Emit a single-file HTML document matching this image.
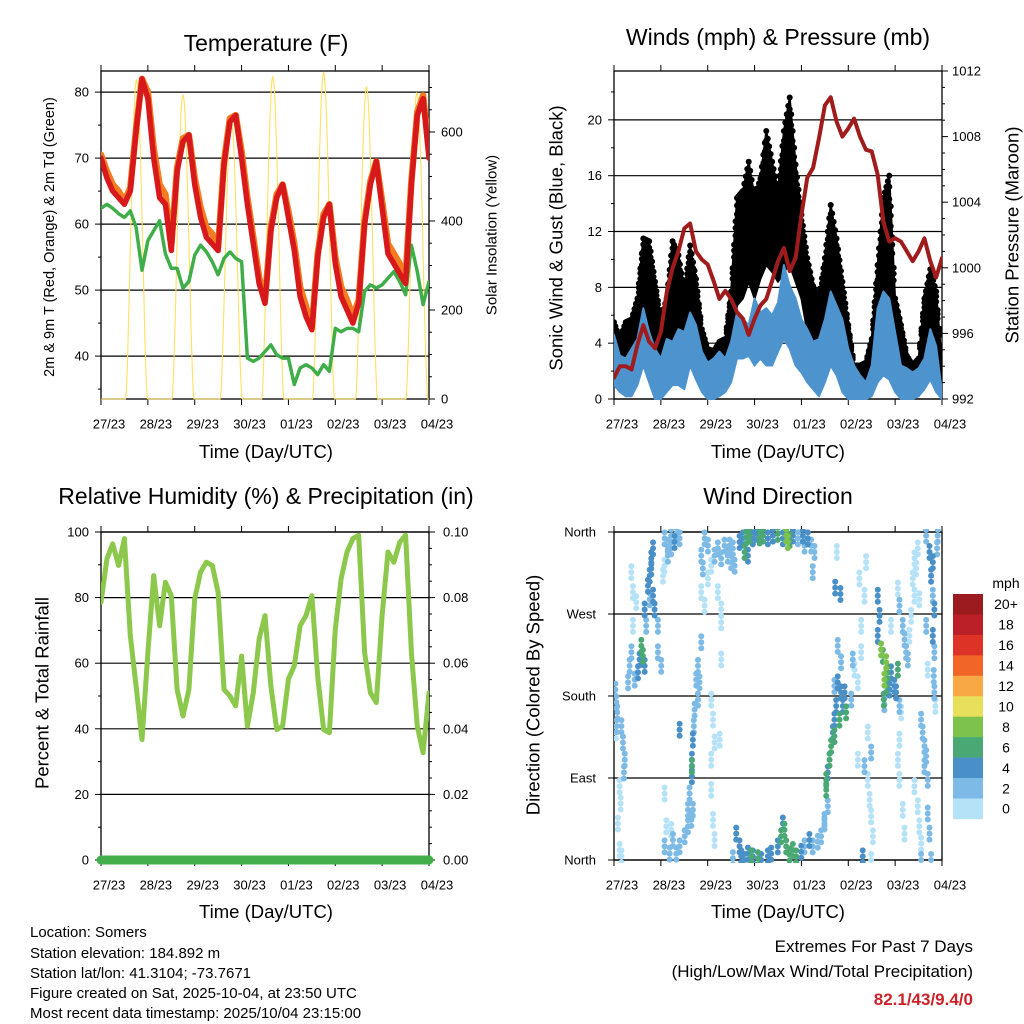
<!DOCTYPE html>
<html><head><meta charset="utf-8"><title>Station meteogram - Somers</title>
<style>
html,body{margin:0;padding:0;background:#fff;}
svg{display:block;font-family:"Liberation Sans",Arial,sans-serif;}
</style></head>
<body>
<svg id="chart" xmlns="http://www.w3.org/2000/svg" width="1024" height="1024" viewBox="0 0 1024 1024">
<rect x="0" y="0" width="1024" height="1024" fill="#fff"/>
<text x="266" y="51" font-size="23" text-anchor="middle">Temperature (F)</text>
<text x="778" y="45" font-size="23" text-anchor="middle">Winds (mph) &amp; Pressure (mb)</text>
<text x="266" y="504" font-size="23" text-anchor="middle">Relative Humidity (%) &amp; Precipitation (in)</text>
<text x="778" y="504" font-size="23" text-anchor="middle">Wind Direction</text>
<text transform="translate(50,237) rotate(-90)" font-size="14.5" text-anchor="middle" dominant-baseline="central">2m &amp; 9m T (Red, Orange) &amp; 2m Td (Green)</text>
<text transform="translate(492,235) rotate(-90)" font-size="15" text-anchor="middle" dominant-baseline="central">Solar Insolation (Yellow)</text>
<text transform="translate(556,238) rotate(-90)" font-size="18.5" text-anchor="middle" dominant-baseline="central">Sonic Wind &amp; Gust (Blue, Black)</text>
<text transform="translate(1012,235) rotate(-90)" font-size="18.5" text-anchor="middle" dominant-baseline="central">Station Pressure (Maroon)</text>
<text transform="translate(42,693) rotate(-90)" font-size="18.5" text-anchor="middle" dominant-baseline="central">Percent &amp; Total Rainfall</text>
<text transform="translate(533,695) rotate(-90)" font-size="18.5" text-anchor="middle" dominant-baseline="central">Direction (Colored By Speed)</text>
<text x="266" y="458" font-size="18.5" text-anchor="middle">Time (Day/UTC)</text>
<text x="778" y="458" font-size="18.5" text-anchor="middle">Time (Day/UTC)</text>
<text x="266" y="918" font-size="18.5" text-anchor="middle">Time (Day/UTC)</text>
<text x="778" y="918" font-size="18.5" text-anchor="middle">Time (Day/UTC)</text>
<g font-size="15">
<text x="30" y="937">Location: Somers</text>
<text x="30" y="958">Station elevation: 184.892 m</text>
<text x="30" y="978">Station lat/lon: 41.3104; -73.7671</text>
<text x="30" y="998">Figure created on Sat, 2025-10-04, at 23:50 UTC</text>
<text x="30" y="1018">Most recent data timestamp: 2025/10/04 23:15:00</text>
</g>
<text x="973" y="952" font-size="17" text-anchor="end">Extremes For Past 7 Days</text>
<text x="973" y="977" font-size="17" text-anchor="end">(High/Low/Max Wind/Total Precipitation)</text>
<text x="973" y="1005" font-size="17" font-weight="bold" fill="#cc2229" text-anchor="end">82.1/43/9.4/0</text>
<text x="1006" y="588" font-size="14" text-anchor="middle">mph</text>
</svg>
<script>
// ---------- data (3-hourly, hours since 27/23) ----------
const dayLabels = ["27/23","28/23","29/23","30/23","01/23","02/23","03/23","04/23"];
const tempRed = [70,67,65,64,63,65,74,82,79,70,64,63,56,68,72.5,73.5,66,61,58,57,56,69,75.5,76.5,70,63,57,51,48,59,64,66,61,56,49,46,44,55,61,63,54,49,47,45,48,60,66,69.5,62.5,55.5,54,52.5,51,66,76.5,79,70];
const tempOrange = [70.5,68,66,65,63.5,65.5,74.5,82,80,71.5,66,64.5,57,68.5,73,73.5,67,62.5,59.5,58.5,56.5,69.5,76,76.5,71,64,58,52,48.5,59.5,64.5,66,62,57,50.5,47.5,44.5,55.5,61.5,63,55,50.5,48.5,46,48.5,60.5,66.5,69.5,63.5,57,55.5,54,52,66.5,77,79.5,71];
const tempDew = [62.4,63,62.4,61.6,61,62,59.5,53,57.5,59,60.5,55.5,53.3,53.3,50.3,51.3,55.3,56.8,55.8,54.3,52.3,54.8,55.8,54.8,54.3,39.7,39.2,39.7,40.7,41.7,40.2,39.7,39.7,35.7,38.2,38.7,38.2,37.2,38.7,37.7,44.2,43.7,44.2,44.2,43.7,49.8,50.8,50.3,50.8,51.8,52.8,51.3,49.3,56.8,52.8,47.8,51.3];
const solarPeakHour = [18.2,42,66.7,88,114,136,161.8];
const solarPeak = [717,683,631,724,733,701,688];
const pressure = [993.3,994,994,993.8,995.3,996.5,995.5,995.1,996.1,998.5,1000,1001,1002.4,1002.7,1001,1000.5,1000.2,999.2,998.1,998.6,998.1,997.3,996.9,995.9,996.9,997.7,998.1,999.2,1000.4,1001.2,999.8,1000.6,1003.2,1005.5,1006.1,1007.9,1009.9,1010.4,1008.9,1008,1008.5,1009.1,1008,1007.2,1007.1,1005.7,1002.8,1001.6,1001.8,1001.6,1001,1000.4,1001,1001.8,1000.4,999.4,1000.6];
const gustHigh = [5.5,4.3,5.5,5.7,7.2,11.5,11.3,8.4,5.7,7.2,11.3,10.3,7.7,11,8.6,5,3.6,3.4,4.1,4.3,7.7,14.4,14.9,17,14.4,15.8,19.2,17,14.9,19.2,21.6,16.8,13.2,10.1,8.1,7.2,10.1,13.9,11.5,8.4,5.3,2.4,2.4,2.6,4.3,9.6,14.4,16,7.2,5.3,3.1,2.4,2.9,7.2,9.3,7.7,2.4];
const gustLow = [2.4,2.4,2.6,2.9,3.6,5.3,4.8,3.6,2.4,2.9,4.1,3.6,3.4,4.3,3.1,2.4,1.2,1,1.4,1.9,3.6,6.7,7.2,8.4,7.2,8.6,9.6,9.1,8.4,9.1,9.6,8.4,7.2,4.8,3.6,3.1,3.6,4.8,4.3,2.4,1.9,1,1,1,1.2,2.4,6,4.8,2.9,1.7,1.2,1,1.4,2.9,3.6,2.9,0.5];
const windHigh = [4.6,3.1,2.9,3.6,4.3,6.5,4.8,3.6,2.9,4.3,4.1,5,4.8,6.2,5.3,3.4,2.6,2.9,3.4,2.9,4.1,6.2,5.7,5.3,7.2,6.2,6.5,6,6.9,9.6,8.1,7.2,5.7,5,4.1,4.3,5.7,7.7,6.7,5.7,3.6,2.4,1.7,1.2,2.4,6.5,7.7,7.2,4.8,2.4,2.2,1.9,2.2,2.9,5,3.8,0.5];
const windLow = [1,0.5,0.2,0.2,1,2.4,1.2,0,0,0.5,1,1,0.7,2.4,1.4,0.5,0,0,0.2,0.5,1.2,2.9,2.9,3.1,2.4,2.9,2.4,2.4,3.4,4.3,3.6,2.4,1.9,1.2,0.7,0.2,1.2,2.4,1.7,0.5,0,0,0,0,0.2,1.2,1.7,1.4,0.5,0,0,0,0.2,0.7,1.4,0.5,0];
const humidity = [78.6,91.8,96.4,89.8,98,68.4,53,36.7,63.3,86.7,71.4,84.7,80.6,52,43.9,52,79.6,87.8,90.8,89.8,81.6,52,50,47,62.2,40.8,51,67.3,74.5,53,39.8,40.8,55.1,59.2,71.4,74.5,80.6,56,39.8,38.8,70.4,85.7,93.9,98,99,63.3,51,48,74.5,93.9,90.8,96.9,99,63.3,40.8,32.7,51];
const precipTotal = [0,0,0,0,0,0,0,0];
// wind direction observations
const dirHours = [0.7,1.2,1.7,1.4,1,3.8,4.6,5.5,5.1,2.9,3.4,2,2.9,3.8,7.2,8,8.9,9.7,10.6,12.3,13.1,14,14.8,15.7,16.5,15.7,17.4,18.3,19.1,20,20,20.8,18.3,19.1,22.5,22.5,24.2,8.9,9.7,11.4,25.9,27.6,29.3,31.9,33.6,25.9,27.6,25.1,31,29.3,25.9,28.5,30.2,31.9,33.6,36.2,37.9,39.6,40.4,25.9,26.8,29.3,44.7,43,42.1,41.3,40.9,40.4,39.9,39.9,39.9,38.7,37.9,33.6,43.8,43,49.8,50.7,51.5,49.8,54.1,49.8,54.9,54.9,54.9,46.4,48.1,49.8,51.5,53.2,54.9,56.6,58.3,60,44.7,46.4,48.1,53.2,44.7,45.5,59.2,60.9,61.8,64.3,66,67.7,69.4,71.1,72.8,74.6,76.3,78.8,81.4,83.9,86.5,88.2,89.1,89.9,91.6,94.2,96.7,99.3,101,102.7,101.8,66.9,68.6,97.6,62.6,64.3,65.2,66.9,68.6,71.1,73.7,75.4,78.8,80.5,83.9,85.6,86.5,87.3,88.2,89.9,91.6,93.3,95.9,97.6,100.1,101.8,104.4,106.1,107.8,70.3,60.9,51.5,50.7,113.3,116,114.1,108.7,109.5,110.4,111.2,112.1,112.9,113.8,115.5,117.2,118.1,114.6,116.3,118.9,121.5,112.9,108.7,109.5,107.8,114.6,116.3,112.9,122.3,123.2,124.9,126.6,126.6,125.7,128.3,129.1,130,131.7,128.3,124.9,130,130.9,131.7,132.6,131.7,127.4,135.1,136,135.1,136.8,137.7,139.4,140.2,138.5,139.4,141.1,141.9,143.6,144.5,145.4,138.2,138.5,146.2,141.9,145.4,146.2,147.9,148.8,149.6,150.5,151.3,152.2,153.9,153,154.7,155.6,153.9,147.1,146.2,145.4,146.2,147.9,148.8,153.9,155.6,156.4,157.3,157.3,157.3,158.1,159,159.9,159,160.7,160.7,161.6,162.4,159.9,161.6,163.3,162.4,163.3,164.1,163.3,164.1,163.8,164.1,164.6,165.8,165.5,159.9,160.7,156.4,158.1];
const dirDegrees = [187,173,162,147,140,147,129,110,96,81,62,40,11,4,195,213,228,257,198,206,220,235,224,213,257,275,301,312,331,342,290,275,286,320,257,228,213,316,294,283,353,345,356,358,353,323,334,312,349,342,15,7,22,7,15,26,37,44,55,73,37,33,239,213,198,165,147,132,110,92,103,73,55,143,195,176,176,154,129,110,132,77,220,261,275,353,345,323,334,342,331,345,334,327,294,279,309,294,334,320,345,342,323,349,353,354,356,353,358,354,356,353,356,358,353,356,349,351,356,353,356,353,345,338,316,338,334,345,29,15,4,0,7,4,2,0,4,7,15,26,40,33,15,6,11,4,9,15,22,15,20,26,40,4,2,22,44,299,292,338,77,96,110,125,140,154,169,154,169,184,195,184,162,176,136,88,59,44,235,217,191,220,209,195,228,257,309,290,327,140,118,103,110,88,66,48,26,0,4,290,268,246,231,224,217,206,198,191,187,206,191,184,209,176,171,169,257,298,279,257,242,228,220,246,268,290,309,320,342,331,162,132,110,88,55,29,81,59,37,18,0,154,140,125,114,103,88,51,29,0,356,338,327,312,290,275,246,228,202,184,169,356,342,257,209,286,283];
const dirSpeeds = [3,2,2,2,1,2,2,2,2,1,0,0,1,1,3,2,2,1,2,4,4,6,6,4,3,4,4,4,4,4,4,4,3,4,3,3,2,1,1,1,2,2,3,3,3,1,2,1,4,2,2,3,2,3,2,2,3,2,2,1,1,1,2,2,2,3,3,4,4,4,6,2,2,4,2,2,1,1,1,1,1,1,1,1,1,2,2,1,2,2,2,3,2,3,1,1,1,1,2,2,3,3,2,4,4,6,6,4,4,6,6,4,4,6,4,8,8,6,4,3,4,4,3,3,2,6,4,3,4,4,4,4,4,4,6,4,4,4,4,6,4,6,6,6,6,6,4,3,4,3,3,3,2,6,2,1,1,4,4,1,6,4,6,6,4,4,4,6,4,4,4,4,6,3,6,6,3,2,3,2,3,2,1,1,1,1,1,1,1,1,2,2,1,1,1,0,1,0,4,4,4,4,8,6,8,6,8,6,4,4,4,4,6,6,3,3,1,1,2,2,2,2,2,1,1,1,1,1,1,1,1,1,1,1,0,1,1,0,0,0,2,2,3,2,2,2,3,2,3,3,2,4,4,4,3,4,4,3,3,2,1,2,2,2,1,1];
const speedBins = ["0","2","4","6","8","10","12","14","16","18","20+"];
const speedColors = ["#b5e2f7","#7dbbe6","#4a90c8","#4aa874","#7dc24c","#e8e05a","#f9a846","#f16529","#dd3327","#bb1f27","#9b1b1e"];

// ---------- helpers ----------
const NS = "http://www.w3.org/2000/svg";
const svg = document.getElementById("chart");
function mk(tag, attrs, parent) {
  const e = document.createElementNS(NS, tag);
  for (const k in attrs) e.setAttribute(k, attrs[k]);
  (parent || svg).appendChild(e);
  return e;
}
const HOURS = 168;
function panel(x0, x1, y0, y1) { return {x0, x1, y0, y1, x: h => x0 + h / HOURS * (x1 - x0)}; }
function linY(p, lo, hi) { return v => p.y1 - (v - lo) / (hi - lo) * (p.y1 - p.y0); }
const P1 = panel(101, 429, 71, 399), P2 = panel(614, 942, 71, 399), P3 = panel(101, 429, 532, 860), P4 = panel(614, 942, 532, 860);
const yT = linY(P1, 33.5, 83.2), yS = linY(P1, 0, 737);
const yW = linY(P2, 0, 23.5), yP = linY(P2, 992, 1012);
const yRH = linY(P3, 0, 100), yPr = linY(P3, 0, 0.1);
const yDir = linY(P4, 0, 360);
const stepH = i => i * 3;
function interp(arr, h) {
  const f = h / 3, i = Math.min(arr.length - 2, Math.floor(f)), t = f - i;
  return arr[i] * (1 - t) + arr[i + 1] * t;
}

function clip(p, id) {
  const cp = mk("clipPath", {id});
  
  
  mk("rect", {x: p.x0, y: p.y0 - 3, width: p.x1 - p.x0, height: p.y1 - p.y0 + 6}, cp);
  const g = mk("g", {"clip-path": "url(#" + id + ")"});
  
  
  return g;
}
function polyline(g, p, vals, yf, attrs) {
  const pts = vals.map((v, i) => p.x(stepH(i)).toFixed(1) + "," + yf(v).toFixed(1)).join(" ");
  return mk("polyline", Object.assign({points: pts, fill: "none", "stroke-linejoin": "round", "stroke-linecap": "round"}, attrs), g);
}
function band(g, p, hi, lo, yf, fill) {
  const top = hi.map((v, i) => p.x(stepH(i)).toFixed(1) + "," + yf(v).toFixed(1));
  const bot = lo.map((v, i) => p.x(stepH(i)).toFixed(1) + "," + yf(v).toFixed(1)).reverse();
  return mk("polygon", {points: top.concat(bot).join(" "), fill, stroke: fill, "stroke-width": 2, "stroke-linejoin": "round"}, g);
}
function frame(p, name) {
  const g = mk("g", {});
  
  
  return g;
}
function hgrid(g, p, y, name) {
  const l = mk("line", {x1: p.x0, x2: p.x1, y1: y, y2: y, stroke: "#000", "stroke-width": 1.2}, g);
  
  
}
function ytick(g, x, y, len, name) {
  const l = mk("line", {x1: x, x2: x + len, y1: y, y2: y, stroke: "#000", "stroke-width": 1}, g);
  
  
}
function label(g, x, y, txt, anchor, name, size) {
  const t = mk("text", {x, y, "font-size": size || 13, "text-anchor": anchor, "dominant-baseline": "central"}, g);
  t.textContent = txt;
  
  
  return t;
}
function xaxis(g, p, name) {
  dayLabels.forEach((d, i) => {
    const x = p.x(i * 24);
    const t1 = mk("line", {x1: x, x2: x, y1: p.y0, y2: p.y0 - 6, stroke: "#000", "stroke-width": 1}, g);
    
    
    const t2 = mk("line", {x1: x, x2: x, y1: p.y1, y2: p.y1 + 6, stroke: "#000", "stroke-width": 1}, g);
    
    
    label(g, x + 8, p.y1 + 25, d, "middle", name + '-x-tick-label');
  });
}
function box(g, p, name) {
  const r = mk("rect", {x: p.x0, y: p.y0, width: p.x1 - p.x0, height: p.y1 - p.y0, fill: "none", stroke: "#000", "stroke-width": 1.3}, g);
  
  
}

// ---------- Panel 1: temperature ----------
const ax1 = frame(P1, "temperature");
[40, 50, 60, 70, 80].forEach(v => { hgrid(ax1, P1, yT(v), "temperature-gridline"); label(ax1, P1.x0 - 12, yT(v), String(v), "end", "temperature-y-tick-label"); });
for (let v = 35; v <= 80; v += 5) ytick(ax1, P1.x0, yT(v), v % 10 ? -3 : -6, "temperature-y-tick");
for (let v = 0; v <= 700; v += 50) ytick(ax1, P1.x1, yS(v), v % 200 ? 3 : 6, "solar-y-tick");
[0, 200, 400, 600].forEach(v => label(ax1, P1.x1 + 12, yS(v), String(v), "start", "solar-y-tick-label"));
xaxis(ax1, P1, "temperature");
const g1 = clip(P1, "temperature-clip");
let sd = "";
for (let h = 0; h <= HOURS; h += 0.25) {
  let v = 0;
  solarPeakHour.forEach((c, k) => { const u = (h - c) / 5.6; if (Math.abs(u) < 1) v = Math.max(v, solarPeak[k] * Math.pow(Math.cos(u * Math.PI / 2), 1.6)); });
  sd += (h ? "L" : "M") + P1.x(h).toFixed(1) + "," + yS(v).toFixed(1);
}
const solar = mk("path", {d: sd, fill: "none", stroke: "#ffe060", "stroke-width": 1.1}, g1);


const dew = polyline(g1, P1, tempDew, yT, {stroke: "#3fae49", "stroke-width": 3.5, "stroke-dasharray": "2.5 1.2"});


const t9 = polyline(g1, P1, tempOrange, yT, {stroke: "#f47b20", "stroke-width": 6.5});


const t2 = polyline(g1, P1, tempRed, yT, {stroke: "#d7191c", "stroke-width": 5.5});


box(ax1, P1, "temperature");

// ---------- Panel 2: winds & pressure ----------
const ax2 = frame(P2, "winds");
[0, 4, 8, 12, 16, 20].forEach(v => { hgrid(ax2, P2, yW(v), "wind-gridline"); label(ax2, P2.x0 - 12, yW(v), String(v), "end", "wind-y-tick-label"); });
for (let v = 0; v <= 22; v += 2) ytick(ax2, P2.x0, yW(v), v % 4 ? -3 : -6, "wind-y-tick");
for (let v = 992; v <= 1012; v += 1) ytick(ax2, P2.x1, yP(v), v % 4 ? 3 : 6, "pressure-y-tick");
[992, 996, 1000, 1004, 1008, 1012].forEach(v => label(ax2, P2.x1 + 10, yP(v), String(v), "start", "pressure-y-tick-label"));
xaxis(ax2, P2, "winds");
const g2 = clip(P2, "winds-clip");
const gb = band(g2, P2, gustHigh, gustLow, yW, "#000");


for (let h = 0; h <= HOURS; h += 0.75) {
  const hi = interp(gustHigh, h), lo = interp(gustLow, h);
  [1, 0.93, 0.85].forEach(f => {
    const c = mk("circle", {cx: P2.x(h), cy: yW(lo + (hi - lo) * f), r: 3, fill: "#000"}, g2);
    
    
  });
}
const wb = band(g2, P2, windHigh, windLow, yW, "#4d94cf");


const pr = polyline(g2, P2, pressure, yP, {stroke: "#a01c1c", "stroke-width": 4});


box(ax2, P2, "winds");

// ---------- Panel 3: humidity & precip ----------
const ax3 = frame(P3, "humidity");
[0, 20, 40, 60, 80, 100].forEach(v => { hgrid(ax3, P3, yRH(v), "humidity-gridline"); label(ax3, P3.x0 - 12, yRH(v), String(v), "end", "humidity-y-tick-label"); });
for (let v = 0; v <= 100; v += 10) ytick(ax3, P3.x0, yRH(v), v % 20 ? -3 : -6, "humidity-y-tick");
for (let k = 0; k <= 20; k++) ytick(ax3, P3.x1, yPr(k * 0.005), k % 4 ? 3 : 6, "precip-y-tick");
[0, 0.02, 0.04, 0.06, 0.08, 0.10].forEach(v => label(ax3, P3.x1 + 14, yPr(v), v.toFixed(2), "start", "precip-y-tick-label"));
xaxis(ax3, P3, "humidity");
const g3 = clip(P3, "humidity-clip");
const rh = polyline(g3, P3, humidity, yRH, {stroke: "#8cc84b", "stroke-width": 5});


box(ax3, P3, "humidity");
const pts = precipTotal.map((v, i) => P3.x(i * 24).toFixed(1) + "," + yPr(v).toFixed(1)).join(" ");
const pp = mk("polyline", {points: pts, fill: "none", stroke: "#44ae4a", "stroke-width": 9, "stroke-linecap": "round"});



// ---------- Panel 4: wind direction ----------
const ax4 = frame(P4, "direction");
const dirNames = ["North", "East", "South", "West", "North"];
[0, 90, 180, 270, 360].forEach((v, i) => {
  hgrid(ax4, P4, yDir(v), "direction-gridline");
  ytick(ax4, P4.x0, yDir(v), -6, "direction-y-tick");
  label(ax4, P4.x0 - 18, yDir(v), dirNames[i], "end", "direction-y-tick-label");
});
xaxis(ax4, P4, "direction");
const g4 = clip(P4, "direction-clip");
function binOf(s) { return Math.min(10, Math.floor(s / 2)); }
const order = dirSpeeds.map((s, i) => i).sort((a, b) => dirSpeeds[a] - dirSpeeds[b]);
order.forEach(i => {
  [-6, 0, 6].forEach(dy => {
    const c = mk("circle", {cx: P4.x(dirHours[i]), cy: yDir(dirDegrees[i]) + dy, r: 3, fill: speedColors[binOf(dirSpeeds[i])]}, g4);
    
    
  });
});
box(ax4, P4, "direction");
// colorbar
const cb = mk("g", {});


const cbTop = 594, cbH = 20.45;
speedBins.forEach((b, k) => {
  const idx = speedBins.length - 1 - k;
  const r = mk("rect", {x: 953, y: cbTop + k * cbH, width: 30, height: cbH + 0.3, fill: speedColors[idx]}, cb);
  
  
  label(cb, 1006, cbTop + k * cbH + cbH / 2, speedBins[idx], "middle", "colorbar-label", 14);
});
</script>
</body></html>
